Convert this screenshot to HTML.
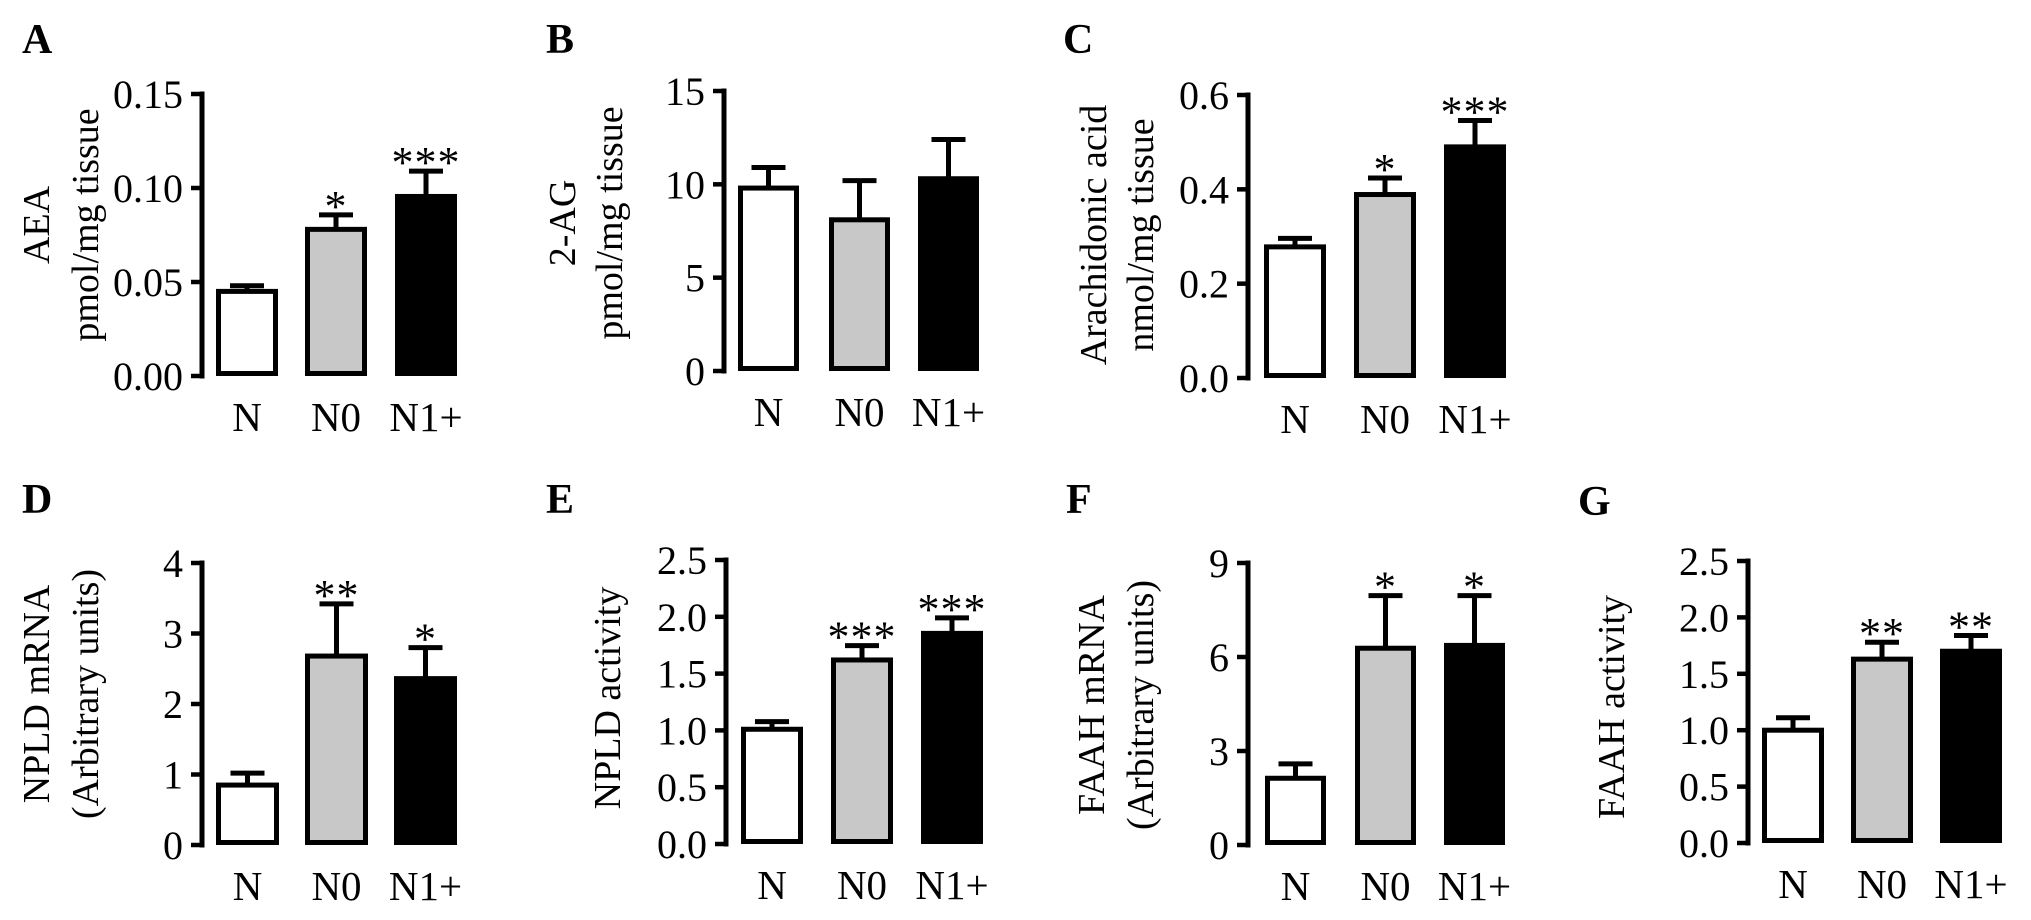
<!DOCTYPE html>
<html><head><meta charset="utf-8">
<style>
html,body{margin:0;padding:0;background:#fff;}
svg{display:block;font-family:"Liberation Serif","Times New Roman",serif;}
</style></head>
<body>
<svg id="fig" width="2031" height="920" viewBox="0 0 2031 920" xmlns="http://www.w3.org/2000/svg"></svg>
<script>
// ---- data ----
const categories = ["N", "N0", "N1+"];
const barFills = ["#ffffff", "#c8c8c8", "#000000"];

const aeaValues = [0.045, 0.078, 0.0955];
const aeaErrors = [0.003, 0.0077, 0.0135];
const aeaStars = ["", "*", "***"];
const aeaTicks = [0, 0.05, 0.10, 0.15];
const aeaTickLabels = ["0.00", "0.05", "0.10", "0.15"];

const agValues = [9.8, 8.1, 10.3];
const agErrors = [1.1, 2.1, 2.1];
const agStars = ["", "", ""];
const agTicks = [0, 5, 10, 15];
const agTickLabels = ["0", "5", "10", "15"];

const aaValues = [0.278, 0.389, 0.49];
const aaErrors = [0.018, 0.035, 0.056];
const aaStars = ["", "*", "***"];
const aaTicks = [0, 0.2, 0.4, 0.6];
const aaTickLabels = ["0.0", "0.2", "0.4", "0.6"];

const npldMrnaValues = [0.85, 2.68, 2.36];
const npldMrnaErrors = [0.17, 0.74, 0.44];
const npldMrnaStars = ["", "**", "*"];
const npldMrnaTicks = [0, 1, 2, 3, 4];
const npldMrnaTickLabels = ["0", "1", "2", "3", "4"];

const npldActValues = [1.01, 1.62, 1.854];
const npldActErrors = [0.067, 0.126, 0.136];
const npldActStars = ["", "***", "***"];
const npldActTicks = [0, 0.5, 1.0, 1.5, 2.0, 2.5];
const npldActTickLabels = ["0.0", "0.5", "1.0", "1.5", "2.0", "2.5"];

const faahMrnaValues = [2.13, 6.28, 6.37];
const faahMrnaErrors = [0.46, 1.68, 1.59];
const faahMrnaStars = ["", "*", "*"];
const faahMrnaTicks = [0, 3, 6, 9];
const faahMrnaTickLabels = ["0", "3", "6", "9"];

const faahActValues = [1.00, 1.63, 1.70];
const faahActErrors = [0.11, 0.15, 0.14];
const faahActStars = ["", "**", "**"];
const faahActTicks = [0, 0.5, 1.0, 1.5, 2.0, 2.5];
const faahActTickLabels = ["0.0", "0.5", "1.0", "1.5", "2.0", "2.5"];

// ---- layout ----
const panels = [
 {id:"a", letter:"A", lx:22, ly:53, ax:202, top:94, zero:376, bars:[216,305,395], bw:62,
  values:aeaValues, errors:aeaErrors, stars:aeaStars, ticks:aeaTicks, tickLabels:aeaTickLabels,
  titles:["AEA","pmol/mg tissue"], tx:[37,86], ty:225},
 {id:"b", letter:"B", lx:546, ly:53, ax:724, top:91, zero:371, bars:[738,829,918], bw:61,
  values:agValues, errors:agErrors, stars:agStars, ticks:agTicks, tickLabels:agTickLabels,
  titles:["2-AG","pmol/mg tissue"], tx:[563,610], ty:223},
 {id:"c", letter:"C", lx:1063, ly:53, ax:1248, top:95, zero:378, bars:[1264,1354,1444], bw:62,
  values:aaValues, errors:aaErrors, stars:aaStars, ticks:aaTicks, tickLabels:aaTickLabels,
  titles:["Arachidonic acid","nmol/mg tissue"], tx:[1094,1141], ty:235},
 {id:"d", letter:"D", lx:22, ly:513, ax:202, top:563, zero:845, bars:[216,305,394], bw:63,
  values:npldMrnaValues, errors:npldMrnaErrors, stars:npldMrnaStars, ticks:npldMrnaTicks, tickLabels:npldMrnaTickLabels,
  titles:["NPLD mRNA","(Arbitrary units)"], tx:[37,86], ty:694},
 {id:"e", letter:"E", lx:546, ly:513, ax:726, top:560, zero:844, bars:[741,831,921], bw:62,
  values:npldActValues, errors:npldActErrors, stars:npldActStars, ticks:npldActTicks, tickLabels:npldActTickLabels,
  titles:["NPLD activity"], tx:[608], ty:698},
 {id:"f", letter:"F", lx:1066, ly:513, ax:1248, top:563, zero:845, bars:[1265,1355,1444], bw:61,
  values:faahMrnaValues, errors:faahMrnaErrors, stars:faahMrnaStars, ticks:faahMrnaTicks, tickLabels:faahMrnaTickLabels,
  titles:["FAAH mRNA","(Arbitrary units)"], tx:[1092,1141], ty:705},
 {id:"g", letter:"G", lx:1578, ly:515, ax:1748, top:561, zero:843, bars:[1762,1851,1940], bw:62,
  values:faahActValues, errors:faahActErrors, stars:faahActStars, ticks:faahActTicks, tickLabels:faahActTickLabels,
  titles:["FAAH activity"], tx:[1612], ty:707}
];

const NS = "http://www.w3.org/2000/svg";
const svg = document.getElementById("fig");
function mk(tag, attrs, parent){
  const e = document.createElementNS(NS, tag);
  for (const k in attrs) e.setAttribute(k, attrs[k]);
  parent.appendChild(e);
  return e;
}

panels.forEach(p => {
  const g = mk("g", {}, svg);
  
  
  const maxV = p.ticks[p.ticks.length - 1];
  const y = v => p.zero - (v / maxV) * (p.zero - p.top);

  const letter = mk("text", {x:p.lx, y:p.ly, "font-size":42, "font-weight":"bold"}, g);
  letter.textContent = p.letter;
  
  

  const axis = mk("line", {x1:p.ax, y1:p.top - 2.5, x2:p.ax, y2:p.zero + 2.5, stroke:"#000", "stroke-width":5}, g);
  
  
  p.ticks.forEach((t, i) => {
    const ty = y(t);
    const tk = mk("line", {x1:p.ax - 11, y1:ty, x2:p.ax, y2:ty, stroke:"#000", "stroke-width":4.5}, g);
    
    
    const tl = mk("text", {x:p.ax - 19, y:ty + 14, "font-size":40, "text-anchor":"end"}, g);
    tl.textContent = p.tickLabels[i];
    
    
  });

  p.titles.forEach((t, i) => {
    const tt = mk("text", {x:0, y:0, "font-size":38, "text-anchor":"middle", "dominant-baseline":"central",
      transform:"translate(" + p.tx[i] + "," + p.ty + ") rotate(-90)"}, g);
    tt.textContent = t;
    
    
  });

  categories.forEach((c, i) => {
    const x0 = p.bars[i], v = p.values[i], e = p.errors[i];
    const cx = x0 + p.bw / 2;
    const topY = y(v), capY = y(v + e);
    const el = mk("line", {x1:cx, y1:topY, x2:cx, y2:capY, stroke:"#000", "stroke-width":5}, g);
    
    
    const cap = mk("line", {x1:cx - 17, y1:capY, x2:cx + 17, y2:capY, stroke:"#000", "stroke-width":5}, g);
    
    
    const r = mk("rect", {x:x0 + 2.5, y:topY, width:p.bw - 5, height:p.zero - topY - 2.5,
      fill:barFills[i], stroke:"#000", "stroke-width":5}, g);
    
    
    if (p.stars[i]) {
      const s = mk("text", {x:cx, y:capY + 6, "font-size":44, "text-anchor":"middle", "letter-spacing":"1"}, g);
      s.textContent = p.stars[i];
      
      
    }
    const cl = mk("text", {x:cx, y:p.zero + 55, "font-size":41, "text-anchor":"middle"}, g);
    cl.textContent = c;
    
    
  });
});
</script>
</body></html>
